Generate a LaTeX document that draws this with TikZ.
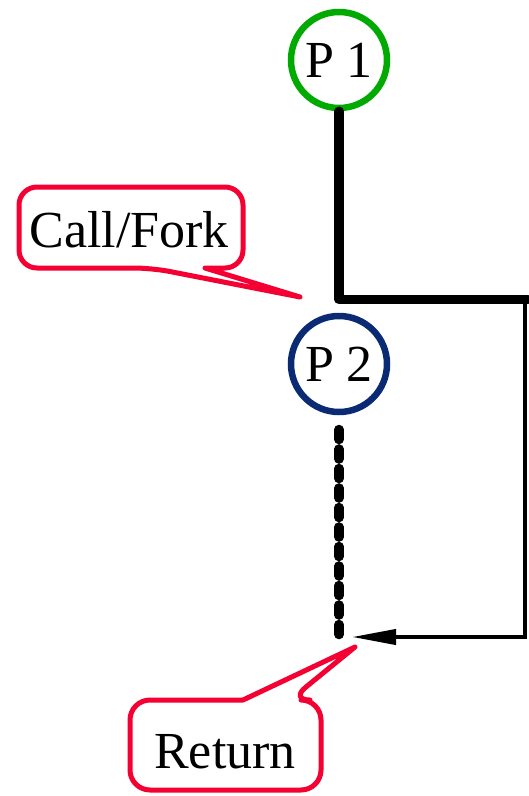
\documentclass[tikz,border=0pt]{standalone}
\usepackage{fontspec}
\setmainfont{Liberation Serif}
\usetikzlibrary{arrows.meta}
\definecolor{pgreen}{RGB}{0,170,0}
\definecolor{pnavy}{RGB}{10,42,115}
\definecolor{cred}{RGB}{245,0,50}
\tikzset{
  proc/.style={circle, draw, line width=6.5pt, minimum size=96pt, inner sep=0pt, font=\fontsize{52}{60}\selectfont},
  lbl/.style={anchor=base, inner sep=0pt, font=\fontsize{52}{60}\selectfont},
  thickline/.style={line width=9.5pt, line cap=round, line join=round},
  thinline/.style={line width=4pt},
  dotline/.style={line width=9.5pt, line cap=round, dash pattern=on 10pt off 9.5pt},
  callout/.style={draw=cred, line width=5pt, line join=round, line cap=round}
}
\begin{document}
\begin{tikzpicture}[x=1pt,y=-1pt]
\useasboundingbox (0,0) rectangle (528,796);
% processes
\node[proc, draw=pgreen] (p1) at (339,60) {P 1};
\node[proc, draw=pnavy] (p2) at (339,364) {P 2};
% coordinates
\coordinate (fk) at (339,299.5);
\coordinate (fe) at (528,299.5);
\coordinate (rt) at (525,299.5);
\coordinate (rb) at (525,637);
\coordinate (ret) at (352,637);
\coordinate (ds) at (339,429.5);
\coordinate (de) at (339,635);
% call / fork
\draw[thickline] (p1.south) -- (fk) -- (fe);
\draw[thinline, -{Triangle[length=44pt,width=15pt]}] (rt) -- (rb) -- (ret);
\draw[dotline] (ds) -- (de);
% callouts
\draw[callout] (205,268) [rounded corners=18pt] -- (243,268) -- (243,187) -- (19,187) -- (19,268) -- (152,268) [sharp corners] -- (300,297) -- cycle;
\node[lbl] (cf) at (129,247) {Call/Fork};
\draw[callout] (243,700) [rounded corners=20pt] -- (130,700) -- (130,790) -- (321,790) -- (321,700) -- (290,700) [sharp corners] -- (355,647) -- cycle;
\node[lbl] (rl) at (225,768) {Return};
\end{tikzpicture}
\end{document}
